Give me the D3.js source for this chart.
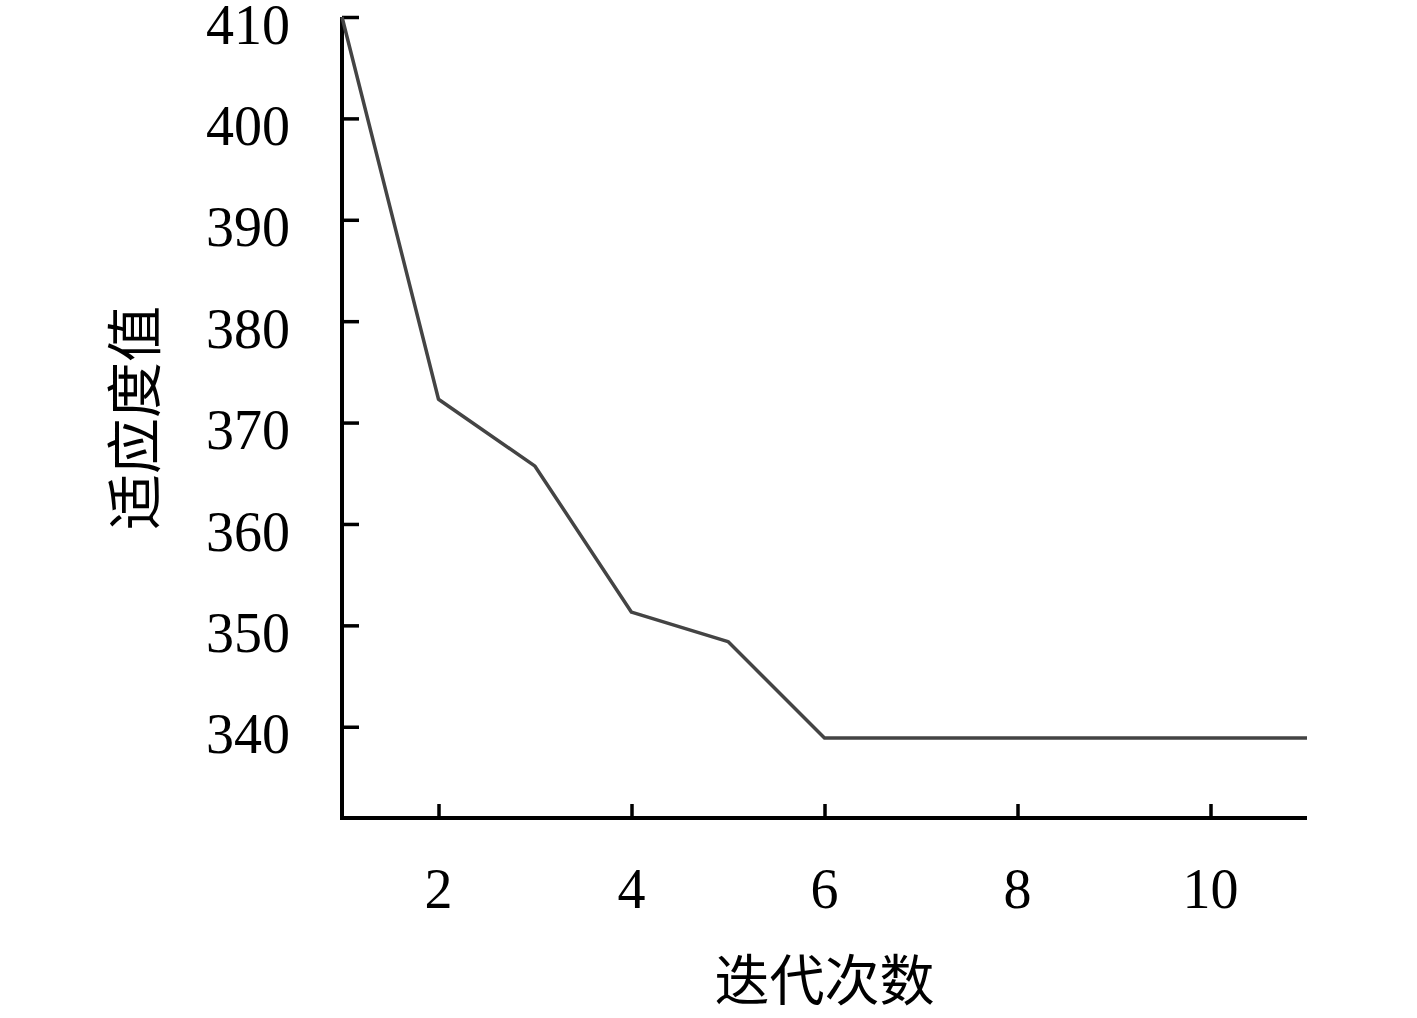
<!DOCTYPE html>
<html>
<head>
<meta charset="utf-8">
<script src="https://cdn.jsdelivr.net/npm/d3@7"></script>
<style>
  body { margin: 0; background: white; }
  svg text { fill: black; }
</style>
</head>
<body>
<svg id="chart"></svg>
<script>
// iteration count vs fitness value
const iterations = [1, 2, 3, 4, 5, 6, 7, 8, 9, 10, 11];
const fitness = [410, 372.3, 365.7, 351.3, 348.4, 338.9, 338.9, 338.9, 338.9, 338.9, 338.9];
const x_ticks = [2, 4, 6, 8, 10];
const y_ticks = [340, 350, 360, 370, 380, 390, 400, 410];
const x_title = "迭代次数";
const y_title = "适应度值";

const width = 1417;
const height = 1018;
const marginLeft = 342;
const marginRight = 110;
const marginTop = 17;
const marginBottom = 200;

const svg = d3.select("#chart")
  .attr("width", width)
  .attr("height", height);

const x = d3.scaleLinear()
  .domain([1, 11])
  .range([marginLeft, width - marginRight]);

const y = d3.scaleLinear()
  .domain([331, 410])
  .range([height - marginBottom, marginTop]);

const num_font = "'Liberation Serif', 'DejaVu Serif', serif";
const cjk_font = "'Noto Sans CJK SC', sans-serif";

// x axis, ticks pointing inward
const gx = svg.append("g")
  .attr("transform", `translate(0,${height - marginBottom})`)
  .call(d3.axisTop(x).tickValues(x_ticks).tickSize(14).tickFormat(""));
gx.select(".domain").remove();
gx.selectAll(".tick line").attr("stroke", "black").attr("stroke-width", 3.5);

svg.append("g")
  .selectAll("text")
  .data(x_ticks)
  .enter()
  .append("text")
  .attr("x", d => x(d))
  .attr("y", height - marginBottom + 90)
  .attr("text-anchor", "middle")
  .style("font-family", num_font)
  .style("font-size", "56px")
  .text(d => d);

// y axis
const gy = svg.append("g")
  .attr("transform", `translate(${marginLeft},0)`)
  .call(d3.axisRight(y).tickValues(y_ticks).tickSize(17).tickFormat(""));
gy.select(".domain").remove();
gy.selectAll(".tick line").attr("stroke", "black").attr("stroke-width", 3.5);

svg.append("g")
  .selectAll("text")
  .data(y_ticks)
  .enter()
  .append("text")
  .attr("x", marginLeft - 52)
  .attr("y", d => y(d) + 7)
  .attr("dy", "0.35em")
  .attr("text-anchor", "end")
  .style("font-family", num_font)
  .style("font-size", "56px")
  .text(d => d);

// axis lines
svg.append("path")
  .attr("d", `M${marginLeft},${marginTop}V${height - marginBottom}H${width - marginRight}`)
  .attr("fill", "none")
  .attr("stroke", "black")
  .attr("stroke-width", 4);

// data line
const line = d3.line()
  .x((d, i) => x(iterations[i]))
  .y(d => y(d));

svg.append("path")
  .datum(fitness)
  .attr("d", line)
  .attr("fill", "none")
  .attr("stroke", "#444444")
  .attr("stroke-width", 3.5)
  .attr("stroke-linejoin", "round");

// titles
svg.append("text")
  .attr("x", (marginLeft + width - marginRight) / 2)
  .attr("y", 1000)
  .attr("text-anchor", "middle")
  .style("font-family", cjk_font)
  .style("font-size", "55px")
  .text(x_title);

svg.append("text")
  .attr("transform", `translate(155,418) rotate(-90)`)
  .attr("text-anchor", "middle")
  .style("font-family", cjk_font)
  .style("font-size", "56px")
  .text(y_title);
</script>
</body>
</html>
